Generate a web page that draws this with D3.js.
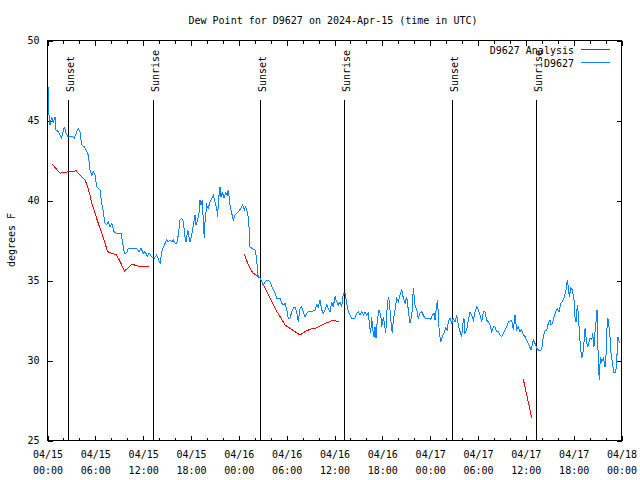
<!DOCTYPE html>
<html><head><meta charset="utf-8">
<script src="https://cdn.jsdelivr.net/npm/d3@7"></script>
<style>
body{margin:0;background:#fff}
svg text{font-family:"DejaVu Sans Mono",monospace;font-size:10px;fill:#000}
</style>
</head><body><svg id="c" width="640" height="480"></svg>
<script>
// Observed dew point (hours since 2024-04-15 00:00 UTC, degrees F)
const obsHours = [0.16,0.25,0.38,0.59,0.79,1.0,1.13,1.42,1.84,2.17,2.38,2.6,3.1,3.42,3.93,4.14,4.35,4.68,4.98,5.18,5.39,5.61,5.81,6.02,6.23,6.65,6.86,7.06,7.28,7.49,7.69,7.9,8.12,8.4,8.74,9.28,9.5,9.7,10.0,10.2,11.25,11.54,11.79,12.08,12.29,12.58,12.83,13.13,13.46,13.76,14.18,14.39,14.71,15.01,15.21,15.43,15.64,15.84,16.06,16.27,16.47,16.68,16.9,17.1,17.31,17.44,17.65,17.81,17.94,18.15,18.35,18.56,18.69,18.9,19.07,19.19,19.32,19.48,19.61,19.73,19.82,20.03,20.23,20.45,20.66,20.86,21.07,21.29,21.41,21.49,21.7,21.83,21.99,22.2,22.42,22.62,22.74,22.96,23.17,23.37,23.58,24.0,24.34,24.55,24.75,24.93,25.18,25.34,25.46,25.68,26.09,26.3,26.43,26.59,26.72,27.13,27.35,27.63,27.97,28.31,28.6,28.81,29.23,29.44,29.64,29.86,30.07,30.27,30.48,30.7,30.9,31.11,31.32,31.52,31.74,31.95,32.15,32.36,32.58,32.78,33.2,33.62,33.83,34.03,34.25,34.46,34.66,34.87,35.09,35.29,35.5,35.71,35.91,36.13,36.34,36.54,36.75,36.97,37.17,37.38,37.59,37.79,38.01,38.22,38.63,38.85,39.05,39.26,39.48,39.68,39.89,40.1,40.3,40.43,40.6,40.73,40.86,41.02,41.14,41.27,41.43,41.65,41.86,41.99,42.19,42.31,42.49,42.61,42.74,42.86,43.03,43.15,43.31,43.44,43.65,43.87,44.07,44.28,44.49,44.7,44.91,45.12,45.32,45.53,45.75,45.95,46.16,46.38,46.58,46.79,47.0,47.2,47.42,47.95,48.17,48.33,48.55,48.67,48.88,49.01,49.08,49.21,49.39,49.59,49.8,50.01,50.21,50.34,50.55,50.77,50.97,51.18,51.39,51.59,51.81,52.02,52.14,52.3,52.43,52.65,52.85,53.06,53.27,53.48,53.69,53.9,54.1,54.31,54.53,54.73,54.94,55.15,55.36,55.57,55.78,55.99,56.2,56.41,56.61,56.82,57.04,57.24,57.45,57.66,57.87,58.29,58.49,58.7,58.92,59.12,59.33,59.55,59.75,59.96,60.17,60.38,60.71,60.88,61.0,61.21,61.43,61.72,62.05,62.26,62.47,62.68,62.88,63.1,63.22,63.39,63.6,63.81,64.01,64.22,64.44,64.64,64.85,65.07,65.27,65.39,65.52,65.69,65.89,66.11,66.23,66.36,66.52,66.65,66.77,66.95,67.07,67.2,67.36,67.49,67.61,67.78,67.9,68.11,68.33,68.45,68.61,68.74,68.87,68.99,69.16,69.28,69.41,69.58,69.79,70.0,70.12,70.29,70.41,70.62,70.75,70.91,71.09,71.34,71.47,71.6,71.76,71.88];
const obsValues = [47.08,45.31,44.69,45.21,44.81,45.21,44.38,44.27,43.88,44.58,44.19,43.96,44.0,43.88,44.48,44.27,43.44,43.33,43.02,42.81,41.88,41.56,41.77,41.56,40.83,40.63,39.81,39.27,38.54,38.44,38.64,38.33,38.54,38.02,37.92,37.92,37.29,36.67,36.69,36.98,36.98,36.77,36.98,36.67,36.77,36.5,36.67,36.46,36.36,36.56,36.04,36.77,37.19,37.5,37.39,37.5,37.39,37.5,37.29,37.29,37.81,38.75,38.86,38.64,37.71,37.39,38.13,37.71,37.39,37.81,38.44,39.06,38.44,38.75,39.17,40.0,39.69,40.0,38.64,37.61,38.64,39.69,39.48,39.89,40.11,40.31,39.89,39.48,38.96,39.89,40.83,40.21,40.52,40.11,40.42,40.31,40.63,39.69,39.17,38.75,39.06,39.27,39.48,39.69,39.38,39.58,39.17,38.33,37.08,36.98,36.88,36.36,35.31,35.21,35.11,34.69,34.89,35.0,34.89,34.48,34.17,33.86,33.86,33.54,33.44,33.54,33.13,32.6,32.6,33.02,33.23,33.33,33.02,32.39,33.23,33.33,33.02,32.71,32.92,33.02,33.02,33.13,33.44,33.33,33.75,33.13,32.92,33.13,33.44,33.23,33.02,33.64,33.33,33.96,33.64,33.44,33.64,33.33,34.17,34.17,33.54,33.02,32.81,32.6,32.6,32.92,33.02,32.81,33.02,32.81,33.02,32.81,32.92,32.29,31.67,32.71,31.88,31.46,32.08,31.36,32.5,33.13,32.81,32.08,32.71,32.29,31.67,32.92,33.64,33.96,33.13,32.39,31.67,32.5,33.13,33.86,33.64,34.06,34.38,33.86,33.54,33.96,33.13,32.29,32.71,34.48,33.44,33.13,32.6,32.92,33.02,32.81,32.6,32.6,32.54,32.81,32.92,32.5,33.44,33.75,32.71,31.77,31.14,31.46,31.67,31.98,31.88,32.39,32.6,32.29,32.6,32.39,32.81,32.19,31.77,31.46,32.19,32.6,31.67,31.88,32.5,33.02,32.81,32.5,33.02,33.33,33.13,32.81,32.39,33.02,33.02,32.5,32.39,32.19,31.77,32.08,32.08,31.77,31.77,31.56,31.46,31.67,31.88,32.08,32.39,32.5,31.88,32.81,31.88,32.08,31.77,31.88,31.56,31.46,31.25,31.04,30.63,30.94,31.25,31.04,30.73,30.58,30.63,31.46,31.81,31.88,32.29,32.5,32.19,32.29,32.71,33.02,33.23,33.02,33.54,33.64,33.86,34.27,35.0,34.58,33.96,34.48,34.38,33.75,32.71,32.39,33.44,32.92,31.77,30.63,30.11,30.31,31.14,31.98,31.46,30.83,30.94,31.36,31.25,31.67,30.83,31.77,32.39,33.13,29.79,28.75,30.21,29.89,30.11,29.58,30.31,32.6,32.5,31.46,30.42,29.89,29.21,29.21,30.0,31.46,31.14,31.04];

// Analysis (null marks a gap)
const anaHours = [0.66,1.0,1.63,2.04,3.1,3.64,4.14,4.77,5.1,5.39,5.61,6.02,6.43,6.86,7.28,7.61,8.12,8.74,9.28,9.7,10.2,10.7,11.25,11.88,12.8,null,24.75,25.25,25.8,26.22,26.72,27.35,27.97,28.6,29.23,29.86,30.48,31.11,31.74,32.36,32.99,33.62,34.25,34.87,35.5,35.84,36.25,36.67,null,59.75,60.8];
const anaValues = [42.25,42.04,41.67,41.73,41.77,41.83,41.56,41.25,40.83,40.31,39.79,39.17,38.54,37.92,37.29,36.77,36.67,36.56,36.04,35.56,35.77,36.0,35.88,35.86,35.86,null,36.63,35.94,35.46,35.31,35.11,34.48,33.86,33.23,32.71,32.19,31.98,31.77,31.56,31.77,31.92,31.98,32.13,32.29,32.39,32.5,32.44,32.36,null,28.79,26.39];

const sunHours = [2.67,13.33,26.72,37.29,50.84,61.38];
const sunLabels = ["Sunset","Sunrise","Sunset","Sunrise","Sunset","Sunrise"];

const xTickHours = [0,6,12,18,24,30,36,42,48,54,60,66,72];
const xTickDates = ["04/15","04/15","04/15","04/15","04/16","04/16","04/16","04/16","04/17","04/17","04/17","04/17","04/18"];
const xTickTimes = ["00:00","06:00","12:00","18:00","00:00","06:00","12:00","18:00","00:00","06:00","12:00","18:00","00:00"];
const xMinorHours = d3.range(0, 73, 2);
const yTicks = [25,30,35,40,45,50];

const seriesNames = ["D9627 Analysis","D9627"];
const seriesColors = ["#ff0000","#0a84ff"];
const titleText = "Dew Point for D9627 on 2024-Apr-15 (time in UTC)";
const yLabel = "degrees F";

const svg = d3.select("#c");
const L = 47, R = 621, T = 40, B = 440;
const x = d3.scaleLinear().domain([0,72]).range([L,R]);
const y = d3.scaleLinear().domain([25,50]).range([B,T]);

// frame
svg.append("rect").attr("x",L+0.5).attr("y",T+0.5).attr("width",R-L).attr("height",B-T)
  .attr("fill","none").attr("stroke","#000").attr("shape-rendering","crispEdges");

function clean(g){ g.select(".domain").remove(); g.selectAll("line").attr("stroke","#000").attr("shape-rendering","crispEdges"); }

// minor ticks
svg.append("g").attr("transform",`translate(0.5,${B+0.5})`).call(d3.axisBottom(x).tickValues(xMinorHours).tickSize(-3).tickFormat("")).call(clean);
svg.append("g").attr("transform",`translate(0.5,${T+0.5})`).call(d3.axisTop(x).tickValues(xMinorHours).tickSize(-3).tickFormat("")).call(clean);
svg.append("g").attr("transform",`translate(0.5,${T+0.5})`).call(d3.axisTop(x).tickValues(xTickHours).tickSize(-5).tickFormat("")).call(clean);

// major bottom ticks + labels
const gx = svg.append("g").attr("transform",`translate(0.5,${B+0.5})`)
  .call(d3.axisBottom(x).tickValues(xTickHours).tickSize(-5).tickPadding(10).tickFormat((d,i)=>xTickDates[i]))
  .call(clean);
gx.selectAll("text").each(function(d,i){
  const t = d3.select(this).text(null).attr("font-family",null).attr("font-size",null);
  t.append("tspan").attr("x",0).attr("dy","0.71em").text(xTickDates[i]);
  t.append("tspan").attr("x",0).attr("dy","16").text(xTickTimes[i]);
});
gx.selectAll("text").attr("dy",null);

// y axes
svg.append("g").attr("transform",`translate(${L+0.5},0.5)`)
  .call(d3.axisLeft(y).tickValues(yTicks).tickSize(-5).tickPadding(8)).call(clean)
  .selectAll("text").attr("font-family",null).attr("font-size",null);
svg.append("g").attr("transform",`translate(${R+0.5},0.5)`)
  .call(d3.axisRight(y).tickValues(yTicks).tickSize(-5).tickFormat("")).call(clean);

// sun lines
sunHours.forEach((h,i)=>{
  const sx = Math.round(x(h))+0.5;
  svg.append("line").attr("x1",sx).attr("x2",sx).attr("y1",100).attr("y2",B)
    .attr("stroke","#000").attr("shape-rendering","crispEdges");
  svg.append("text").attr("transform",`translate(${sx+5.5},92) rotate(-90)`).text(sunLabels[i]);
});

// data lines
const line = d3.line().defined(d=>d[0]!=null && d[1]!=null).x(d=>x(d[0])).y(d=>y(d[1]));
svg.append("path").datum(d3.zip(anaHours, anaValues)).attr("d",line)
  .attr("fill","none").attr("stroke",seriesColors[0]).attr("stroke-width",1).attr("shape-rendering","crispEdges");
svg.append("path").datum(d3.zip(obsHours, obsValues)).attr("d",line)
  .attr("fill","none").attr("stroke",seriesColors[1]).attr("stroke-width",1).attr("shape-rendering","crispEdges");

// legend
seriesNames.forEach((n,i)=>{
  const ly = 50 + i*13;
  svg.append("text").attr("x",574).attr("y",ly).attr("dy","0.35em").attr("text-anchor","end").text(n);
  svg.append("line").attr("x1",581).attr("x2",610).attr("y1",ly-0.5).attr("y2",ly-0.5)
    .attr("stroke",seriesColors[i]).attr("shape-rendering","crispEdges");
});

// title & y label
svg.append("text").attr("x",333).attr("y",24).attr("text-anchor","middle").text(titleText);
svg.append("text").attr("transform","translate(15,240) rotate(-90)").attr("text-anchor","middle").text(yLabel);
</script>
</body></html>
